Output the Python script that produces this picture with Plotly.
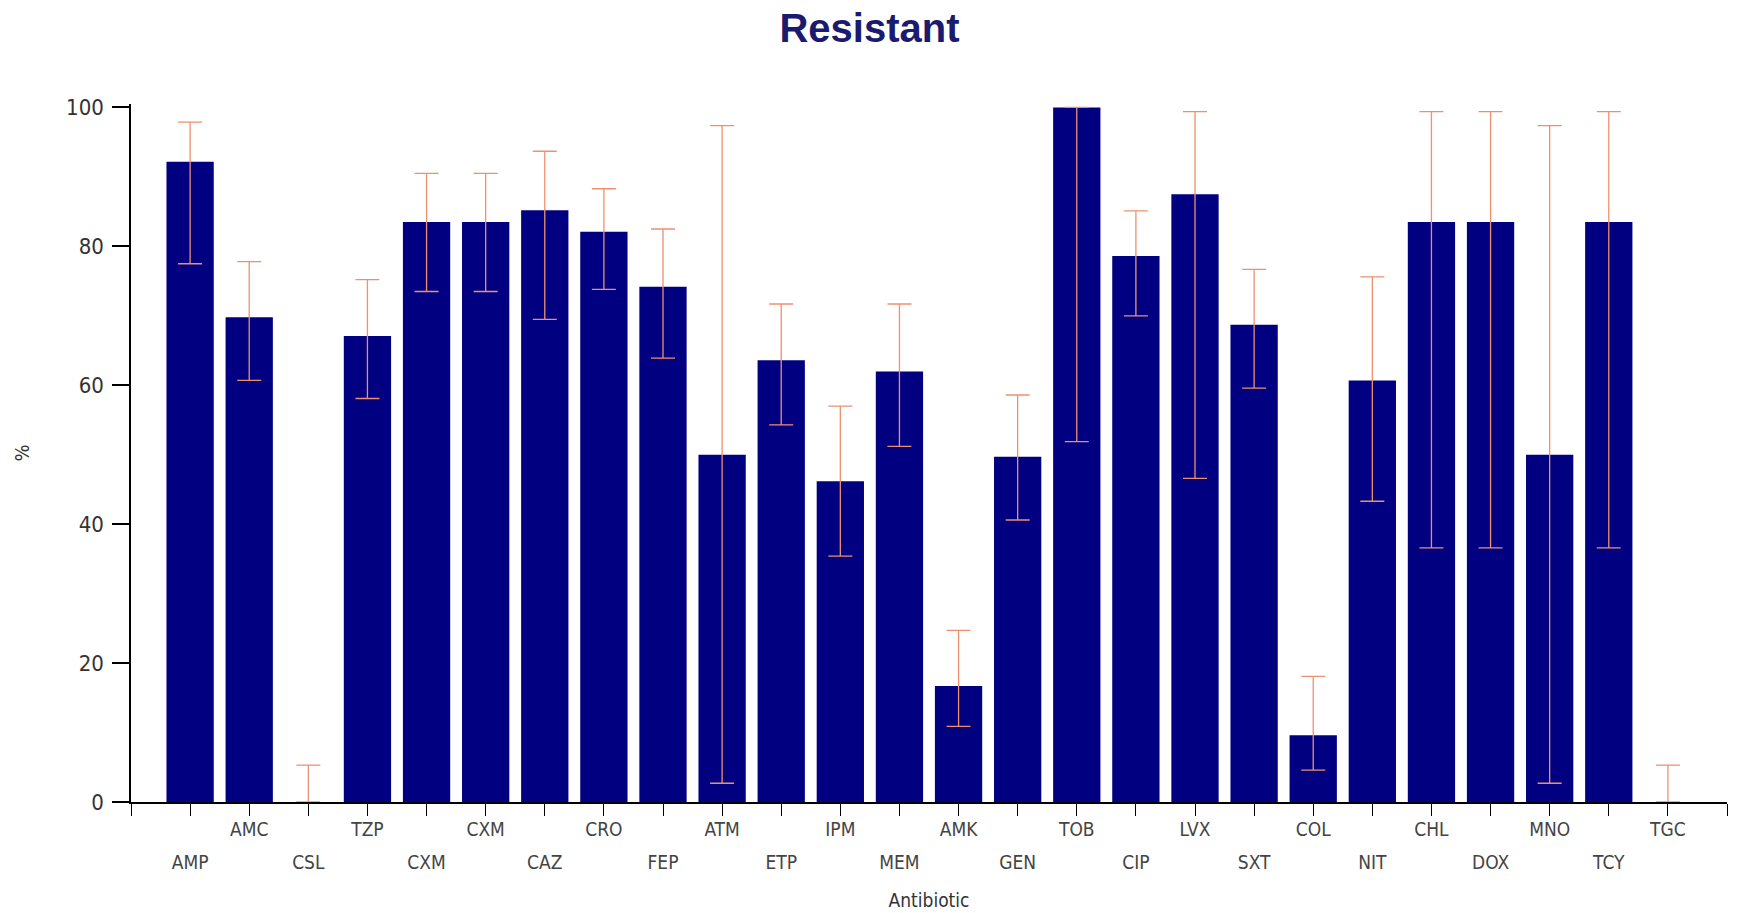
import plotly.graph_objects as go

antibiotics = ["AMP", "AMC", "CSL", "TZP", "CXM", "CXM", "CAZ", "CRO", "FEP", "ATM",
               "ETP", "IPM", "MEM", "AMK", "GEN", "TOB", "CIP", "LVX", "SXT", "COL",
               "NIT", "CHL", "DOX", "MNO", "TCY", "TGC"]
resistant = [92.2, 69.8, 0.0, 67.1, 83.5, 83.5, 85.2, 82.1, 74.2, 50.0,
             63.6, 46.2, 62.0, 16.7, 49.7, 100.0, 78.6, 87.5, 68.7, 9.6,
             60.7, 83.5, 83.5, 50.0, 83.5, 0.0]
ci_upper = [97.9, 77.8, 5.3, 75.2, 90.5, 90.5, 93.7, 88.3, 82.5, 97.4,
            71.7, 57.0, 71.7, 24.7, 58.6, 100.0, 85.1, 99.4, 76.7, 18.1,
            75.6, 99.4, 99.4, 97.4, 99.4, 5.3]
ci_lower = [77.5, 60.7, 0.0, 58.1, 73.5, 73.5, 69.5, 73.8, 63.9, 2.7,
            54.3, 35.4, 51.2, 10.9, 40.6, 51.9, 70.0, 46.6, 59.6, 4.6,
            43.3, 36.6, 36.6, 2.7, 36.6, 0.0]
y_ticks = [0, 20, 40, 60, 80, 100]

n = len(antibiotics)
xpos = list(range(n))
err_plus = [u - v for u, v in zip(ci_upper, resistant)]
err_minus = [v - l for v, l in zip(resistant, ci_lower)]

# Two rows of labels: odd indices on upper row, even indices on lower row
tick_vals = list(range(-1, n + 1))
upper_text = [""] + [a if i % 2 == 1 else "" for i, a in enumerate(antibiotics)] + [""]
lower_vals = [i for i in xpos if i % 2 == 0]
lower_text = [antibiotics[i] for i in lower_vals]

FONT = "DejaVu Sans Condensed, Liberation Sans Narrow, Arial Narrow, sans-serif"
ERR_COLOR = "#EE9070"
BAR_COLOR = "#000080"

fig = go.Figure()
fig.add_trace(go.Bar(
    x=xpos, y=resistant, width=0.8,
    marker=dict(color=BAR_COLOR, line=dict(width=0)),
    error_y=dict(type="data", symmetric=False, array=err_plus, arrayminus=err_minus,
                 color=ERR_COLOR, thickness=1.3, width=12),
    showlegend=False,
))
# invisible trace to activate second x axis (lower label row)
fig.add_trace(go.Scatter(x=[lower_vals[0]], y=[0], xaxis="x2", mode="markers",
                         marker=dict(opacity=0), showlegend=False, hoverinfo="skip"))

fig.update_layout(
    width=1739, height=913,
    paper_bgcolor="white", plot_bgcolor="white",
    margin=dict(l=131, r=12, t=104, b=111),
    title=dict(text="<b>Resistant</b>", x=0.5, xanchor="center", y=1 - 28 / 913, yanchor="middle",
               font=dict(family="Liberation Sans, Arial, sans-serif", size=40, color="#1a1a6e")),
    font=dict(family=FONT, color="#333333"),
    xaxis=dict(range=[-1, n], tickmode="array", tickvals=tick_vals, ticktext=upper_text,
               ticks="outside", ticklen=12, tickwidth=1.3, tickcolor="black", automargin=False,
               showline=True, linecolor="black", linewidth=1.5, showgrid=False, zeroline=False,
               tickfont=dict(size=19, color="#444444"), ticklabelstandoff=-3),
    xaxis2=dict(overlaying="x", matches="x", side="bottom", anchor="y", range=[-1, n],
                tickmode="array", tickvals=lower_vals, ticktext=lower_text, automargin=False,
                ticks="", showline=False, showgrid=False, zeroline=False,
                tickfont=dict(size=19, color="#444444"), ticklabelstandoff=47,
                title=dict(text="Antibiotic", font=dict(size=19, color="#333333"), standoff=21)),
    yaxis=dict(range=[0, 100.5], tickmode="array", tickvals=y_ticks, automargin=False,
               ticks="outside", ticklen=17, tickwidth=1.5, tickcolor="black",
               showline=True, linecolor="black", linewidth=1.5, showgrid=False, zeroline=False,
               tickfont=dict(size=22, color="#333333"), ticklabelstandoff=4,
               title=dict(text="%", font=dict(size=20, color="#333333"), standoff=31)),
    bargap=0.2,
)

fig.write_html("out.html", config={"displayModeBar": False},
               post_script="document.body.style.margin='0';")
